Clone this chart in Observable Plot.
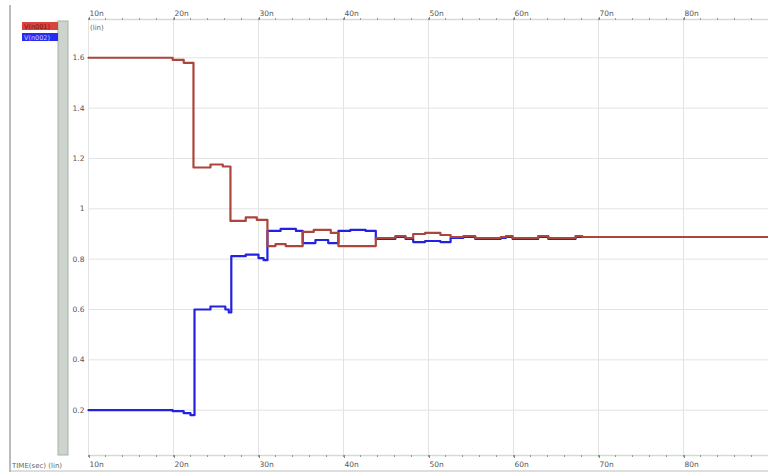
<!DOCTYPE html>
<html><head><meta charset="utf-8">
<script src="https://cdn.jsdelivr.net/npm/d3@7"></script>
<script src="https://cdn.jsdelivr.net/npm/@observablehq/plot@0.6"></script>
<style>body{margin:0;background:#fff}#c{position:relative;width:768px;height:472px;overflow:hidden;background:#fff}</style>
</head><body><div id="c"></div>
<script>
const seriesNames = ["V(n001)", "V(n002)"];
// time in ns, value in V (step breakpoints)
const redT = [10, 19.9, 21.2, 22.35, 24.35, 25.8, 26.7, 28.5, 29.8, 31.05, 32.0, 33.2, 35.2, 36.5, 38.5, 39.4, 43.8, 46.1, 47.3, 48.2, 49.6, 51.4, 52.6, 54.1, 55.5, 58.5, 59.1, 59.9, 62.9, 64.1, 67.3, 68.1, 90];
const redV = [1.6, 1.592, 1.58, 1.164, 1.176, 1.168, 0.952, 0.966, 0.956, 0.852, 0.86, 0.852, 0.908, 0.916, 0.904, 0.852, 0.884, 0.892, 0.884, 0.9, 0.904, 0.896, 0.888, 0.892, 0.884, 0.888, 0.892, 0.884, 0.892, 0.884, 0.892, 0.888, 0.888];
const blueT = [10, 19.9, 21.2, 22.0, 22.47, 24.35, 26.1, 26.5, 26.8, 28.5, 30.0, 30.6, 31.05, 32.6, 34.4, 35.2, 36.7, 38.2, 39.4, 40.8, 42.6, 43.8, 46.1, 47.3, 48.2, 49.6, 51.4, 52.6, 54.1, 55.5, 58.5, 59.1, 59.9, 62.9, 64.1, 67.3, 68.1, 90];
const blueV = [0.2, 0.196, 0.188, 0.18, 0.6, 0.612, 0.6, 0.588, 0.812, 0.818, 0.804, 0.796, 0.912, 0.92, 0.912, 0.864, 0.876, 0.864, 0.912, 0.916, 0.912, 0.88, 0.888, 0.88, 0.868, 0.872, 0.868, 0.884, 0.888, 0.88, 0.884, 0.888, 0.88, 0.888, 0.88, 0.888, 0.888, 0.888];
const xTicks = [10, 20, 30, 40, 50, 60, 70, 80];
const xLabels = ["10n", "20n", "30n", "40n", "50n", "60n", "70n", "80n"];
const xMinor = d3.range(10, 90.1, 2);
const yTicks = [0.2, 0.4, 0.6, 0.8, 1.0, 1.2, 1.4, 1.6];
const yLabels = ["0.2", "0.4", "0.6", "0.8", "1", "1.2", "1.4", "1.6"];
const xDomain = [10, 90];
const yDomain = [0.02, 1.752];

const red = redT.map((t, i) => ({t, v: redV[i]}));
const blue = blueT.map((t, i) => ({t, v: blueV[i]}));
const xLab = new Map(xTicks.map((d, i) => [d, xLabels[i]]));
const yLab = new Map(yTicks.map((d, i) => [d, yLabels[i]]));

const plot = Plot.plot({
  width: 768, height: 472,
  marginTop: 19, marginBottom: 17, marginLeft: 88, marginRight: 0,
  style: {fontFamily: "DejaVu Sans, sans-serif", fontSize: "7.5px", color: "#555", background: "#fff", overflow: "visible"},
  x: {domain: xDomain, axis: null, label: null},
  y: {domain: yDomain, axis: null, label: null},
  marks: [
    Plot.gridX(xTicks, {stroke: "#e3e3e3", strokeOpacity: 1}),
    Plot.gridY(yTicks, {stroke: "#e3e3e3", strokeOpacity: 1}),
    Plot.ruleY([yDomain[1]], {stroke: "#d3dcd3", strokeWidth: 1.5}),
    Plot.ruleY([yDomain[0]], {stroke: "#d3dcd3", strokeWidth: 1.5}),
    Plot.axisX({anchor: "top", ticks: xMinor, tickSize: 2, tickFormat: () => "", stroke: "#999", label: null}),
    Plot.axisX({anchor: "top", ticks: xTicks, tickSize: 3, tickPadding: 1, tickFormat: d => xLab.get(d), textAnchor: "start", dx: 1, stroke: "#888", fill: "#555", label: null}),
    Plot.axisX({anchor: "bottom", ticks: xMinor, tickSize: 2, tickFormat: () => "", stroke: "#999", label: null}),
    Plot.axisX({anchor: "bottom", ticks: xTicks, tickSize: 3, tickPadding: 3, tickFormat: d => xLab.get(d), textAnchor: "start", dx: 1, stroke: "#888", fill: "#555", label: null}),
    Plot.axisY({ticks: yTicks, tickSize: 0, tickPadding: 4, tickFormat: d => yLab.get(d), fill: "#555", label: null}),
    Plot.line(blue, {x: "t", y: "v", curve: "step-after", stroke: "#2222e0", strokeWidth: 2.2}),
    Plot.line(red, {x: "t", y: "v", curve: "step-after", stroke: "#ac463c", strokeWidth: 2.2})
  ]
});
document.getElementById("c").appendChild(plot);

const svg = d3.select(plot);
const deco = svg.append("g").attr("text-anchor", "start");
deco.append("line").attr("x1", 10).attr("x2", 10).attr("y1", 5).attr("y2", 472).attr("stroke", "#777");
deco.append("line").attr("x1", 10).attr("x2", 768).attr("y1", 471).attr("y2", 471).attr("stroke", "#bbb");
deco.append("rect").attr("x", 58).attr("y", 21).attr("width", 10).attr("height", 434).attr("fill", "#cdd4cd").attr("stroke", "#a9b1a9");
deco.append("rect").attr("x", 22).attr("y", 22).attr("width", 36).attr("height", 8).attr("fill", "#d8433d");
deco.append("text").attr("x", 24).attr("y", 29).attr("font-size", 6.5).attr("fill", "#7a1212").text(seriesNames[0]);
deco.append("rect").attr("x", 22).attr("y", 33).attr("width", 36).attr("height", 8).attr("fill", "#2b2bf0");
deco.append("text").attr("x", 24).attr("y", 40).attr("font-size", 6.5).attr("fill", "#c8d0ff").text(seriesNames[1]);
deco.append("text").attr("x", 90).attr("y", 30).attr("font-size", 7).attr("fill", "#666").text("(lin)");
deco.append("text").attr("x", 12).attr("y", 468).attr("font-size", 7).attr("fill", "#666").text("TIME(sec) (lin)");
</script>
</body></html>
